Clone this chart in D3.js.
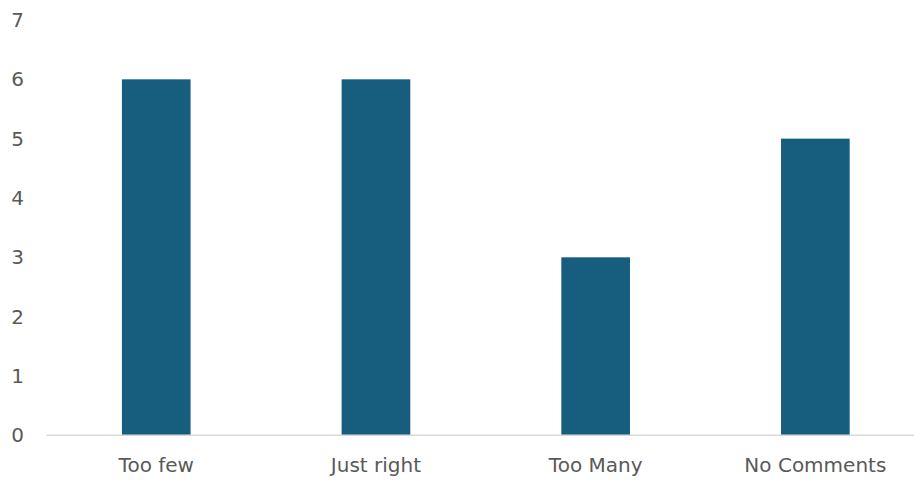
<!DOCTYPE html>
<html>
<head>
<meta charset="utf-8">
<script src="https://cdn.jsdelivr.net/npm/d3@7"></script>
<style>
  html, body { margin: 0; padding: 0; background: #fff; }
  svg { display: block; }
  text { font-family: "DejaVu Sans", sans-serif; fill: #595959; }
</style>
</head>
<body>
<svg id="chart" width="914" height="482"></svg>
<script>
const categories = ["Too few", "Just right", "Too Many", "No Comments"];
const counts = [6, 6, 3, 5];
const yTicks = [0, 1, 2, 3, 4, 5, 6, 7];

const svg = d3.select("#chart");
const W = 914, H = 482;
const labelFont = "'DejaVu Sans', sans-serif";

// plot frame; the category band runs past the right edge of the canvas
const plotLeft = 46.4, plotRight = 925.2, plotTop = 20, plotBottom = 435.3;

const x = d3.scaleBand()
  .domain(categories)
  .range([plotLeft, plotRight])
  .paddingInner(0.6875)
  .paddingOuter(0.34375);

const y = d3.scaleLinear().domain([0, 7]).range([plotBottom, plotTop]);

// bars
svg.append("g").selectAll("rect")
  .data(categories.map((c, i) => ({ c, v: counts[i] })))
  .join("rect")
  .attr("x", d => x(d.c))
  .attr("width", x.bandwidth())
  .attr("y", d => y(d.v))
  .attr("height", d => y(0) - y(d.v))
  .attr("fill", "#175E7E");

// baseline
svg.append("line")
  .attr("x1", plotLeft).attr("x2", W)
  .attr("y1", y(0)).attr("y2", y(0))
  .attr("stroke", "#d9d9d9").attr("stroke-width", 1.5);

// value axis labels
const yAxis = d3.axisLeft(y).tickValues(yTicks).tickSize(0).tickPadding(0).tickFormat(d3.format("d"));
const gy = svg.append("g").attr("transform", "translate(24,0)").call(yAxis);
gy.select(".domain").remove();
gy.selectAll("text").style("font-size", "20px").attr("fill", "#595959")
  .style("font-family", labelFont);

// category axis labels
const xAxis = d3.axisBottom(x).tickSize(0).tickPadding(0);
const gx = svg.append("g").attr("transform", `translate(0,${y(0)})`).call(xAxis);
gx.select(".domain").remove();
gx.selectAll("text").style("font-size", "20px").attr("fill", "#595959")
  .style("font-family", labelFont)
  .attr("dy", null).attr("y", 36.5);
</script>
</body>
</html>
